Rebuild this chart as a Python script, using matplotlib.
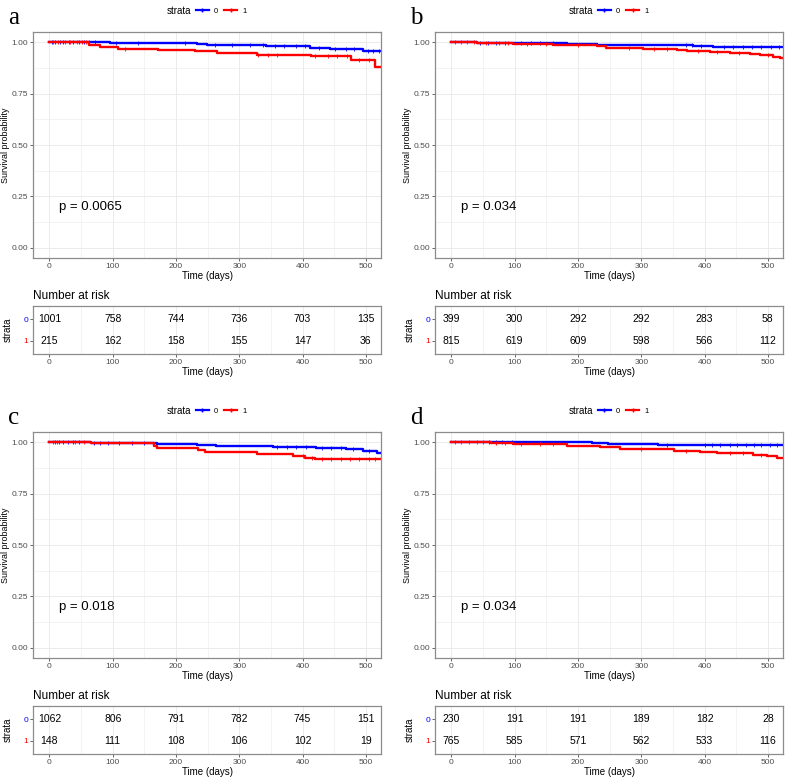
import matplotlib
matplotlib.use("Agg")
import matplotlib.pyplot as plt
import numpy as np

plt.rcParams['font.family'] = ['Liberation Sans', 'DejaVu Sans']

# survival curves (step times in days, survival prob)
a_blue_t = [0, 96, 165, 233, 249, 343, 412, 443, 496]
a_blue_s = [1.0, 0.998, 0.995, 0.992, 0.985, 0.980, 0.972, 0.967, 0.959]
a_red_t = [0, 62, 80, 109, 172, 230, 265, 328, 414, 477, 514]
a_red_s = [1.0, 0.985, 0.979, 0.969, 0.962, 0.956, 0.947, 0.939, 0.931, 0.914, 0.882]

b_blue_t = [0, 40, 100, 182, 230, 382, 414]
b_blue_s = [1.0, 0.997, 0.995, 0.993, 0.985, 0.980, 0.977]
b_red_t = [0, 40, 98, 161, 230, 245, 303, 356, 372, 408, 440, 472, 487, 508, 519]
b_red_s = [1.0, 0.996, 0.992, 0.989, 0.980, 0.972, 0.967, 0.962, 0.957, 0.952,
           0.947, 0.942, 0.936, 0.928, 0.923]

c_blue_t = [0, 65, 101, 170, 233, 264, 354, 422, 469, 496, 517]
c_blue_s = [1.0, 0.997, 0.995, 0.992, 0.987, 0.980, 0.975, 0.972, 0.966, 0.959, 0.949]
c_red_t = [0, 65, 165, 170, 235, 246, 328, 385, 404, 420]
c_red_s = [1.0, 0.995, 0.984, 0.971, 0.962, 0.954, 0.943, 0.935, 0.922, 0.918]

d_blue_t = [0, 222, 248, 327]
d_blue_s = [1.0, 0.997, 0.992, 0.985]
d_red_t = [0, 62, 98, 182, 235, 267, 351, 393, 419, 477, 498, 514]
d_red_s = [1.0, 0.995, 0.992, 0.984, 0.975, 0.966, 0.959, 0.954, 0.948, 0.940, 0.931, 0.922]

# censoring marks (approximate)
a_blue_c = [4, 9, 16, 22, 31, 38, 47, 55, 63, 72, 105, 140, 215, 262, 288, 317, 338,
            356, 371, 389, 404, 426, 451, 468, 482, 503, 512, 521]
a_red_c = [6, 14, 25, 33, 44, 52, 58, 120, 330, 345, 360, 420, 440, 455, 470, 490, 505]
b_blue_c = [45, 58, 70, 85, 110, 125, 140, 160, 370, 380, 395, 430, 445, 460, 475, 490, 505, 518]
b_red_c = [5, 15, 25, 35, 55, 75, 90, 120, 150, 200, 280, 320, 340, 390, 420, 455, 500]
c_blue_c = [8, 15, 22, 30, 38, 47, 70, 80, 92, 110, 130, 150, 360, 375, 390, 405, 430,
            445, 460, 480, 505]
c_red_c = [5, 12, 40, 55, 400, 415, 430, 445, 460, 475, 490, 505, 515]
d_blue_c = [60, 70, 80, 95, 340, 400, 412, 425, 440, 452, 465, 478, 490, 503, 515]
d_red_c = [5, 15, 28, 40, 50, 70, 85, 110, 140, 160, 300, 370, 440, 460, 490]

# number at risk
risk_times = [0, 100, 200, 300, 400, 500]
a_risk0 = [1001, 758, 744, 736, 703, 135]
a_risk1 = [215, 162, 158, 155, 147, 36]
b_risk0 = [399, 300, 292, 292, 283, 58]
b_risk1 = [815, 619, 609, 598, 566, 112]
c_risk0 = [1062, 806, 791, 782, 745, 151]
c_risk1 = [148, 111, 108, 106, 102, 19]
d_risk0 = [230, 191, 191, 189, 182, 28]
d_risk1 = [765, 585, 571, 562, 533, 116]

pvals = ['0.0065', '0.034', '0.018', '0.034']
letters = ['a', 'b', 'c', 'd']
end_time = 525

BLUE = '#0000FF'
RED = '#FF0000'
GRID = '#EBEBEB'
BORDER = '#8C8C8C'
TICK = '#4D4D4D'

W, H = 788, 780
fig = plt.figure(figsize=(W / 100, H / 100), dpi=100)


def px_axes(left, top, w, h):
    return fig.add_axes([left / W, 1 - (top + h) / H, w / W, h / H])


def style(ax):
    for s in ax.spines.values():
        s.set_color(BORDER)
        s.set_linewidth(0.9)
    ax.tick_params(colors=TICK, labelsize=6, length=2, width=0.6, pad=1.5)
    ax.set_axisbelow(True)


def step_curve(ax, t, s, cens, color):
    tt = list(t) + [end_time]
    ss = list(s) + [s[-1]]
    ax.step(tt, ss, where='post', color=color, lw=1.7)
    idx = np.searchsorted(t, cens, side='right') - 1
    ax.plot(cens, np.array(s)[idx], ls='none', marker='+', ms=2.5, mew=0.6, color=color)


panels = [
    (0, 0, a_blue_t, a_blue_s, a_blue_c, a_red_t, a_red_s, a_red_c, a_risk0, a_risk1),
    (402, 0, b_blue_t, b_blue_s, b_blue_c, b_red_t, b_red_s, b_red_c, b_risk0, b_risk1),
    (0, 400, c_blue_t, c_blue_s, c_blue_c, c_red_t, c_red_s, c_red_c, c_risk0, c_risk1),
    (402, 400, d_blue_t, d_blue_s, d_blue_c, d_red_t, d_red_s, d_red_c, d_risk0, d_risk1),
]

for i, (ox, oy, bt, bs, bc, rt, rs, rc, r0, r1) in enumerate(panels):
    ax = px_axes(ox + 33, oy + 32, 348, 226)
    style(ax)
    ax.set_xlim(-26, 524)
    ax.set_ylim(-0.05, 1.05)
    ax.set_xticks(risk_times)
    ax.set_xticks([50, 150, 250, 350, 450], minor=True)
    ax.set_yticks([0, 0.25, 0.5, 0.75, 1.0])
    ax.set_yticks([0.125, 0.375, 0.625, 0.875], minor=True)
    ax.set_yticklabels(['0.00', '0.25', '0.50', '0.75', '1.00'])
    ax.tick_params(which='minor', length=0)
    ax.grid(which='major', color=GRID, lw=0.7)
    ax.grid(which='minor', color=GRID, lw=0.4)
    step_curve(ax, bt, bs, bc, BLUE)
    step_curve(ax, rt, rs, rc, RED)
    ax.set_xlabel('Time (days)', fontsize=7, labelpad=1)
    ax.set_ylabel('Survival probability', fontsize=6.4)
    ax.yaxis.set_label_coords(-0.066, 0.5)
    ax.text(15, 0.2, 'p = ' + pvals[i], fontsize=9.5, ha='left', va='center')

    # legend on top
    ax.text(0.455, 1.092, 'strata', transform=ax.transAxes, fontsize=7,
            ha='right', va='center')
    leg = ax.legend(handles=[plt.Line2D([], [], color=BLUE, lw=1.6, marker='+', ms=2.5),
                             plt.Line2D([], [], color=RED, lw=1.6, marker='+', ms=2.5)],
                    labels=['0', '1'], ncol=2, frameon=False, fontsize=5.5,
                    loc='center left', bbox_to_anchor=(0.468, 1.092),
                    handlelength=1.7, handletextpad=0.6, columnspacing=0.9,
                    borderaxespad=0, borderpad=0)

    fig.text((ox + 8) / W, 1 - (oy + 24) / H, letters[i], fontsize=18,
             family='Liberation Serif', ha='left', va='baseline')

    # risk table
    tb = px_axes(ox + 33, oy + 306, 348, 48)
    style(tb)
    tb.set_xlim(-26, 524)
    tb.set_ylim(0.4, 2.6)
    tb.set_xticks(risk_times)
    tb.set_xticks([50, 150, 250, 350, 450], minor=True)
    tb.tick_params(which='minor', length=0)
    tb.grid(axis='x', which='major', color=GRID, lw=0.7)
    tb.grid(axis='x', which='minor', color=GRID, lw=0.4)
    tb.set_yticks([1, 2])
    tb.set_yticklabels(['1', '0'])
    tb.get_yticklabels()[0].set_color(RED)
    tb.get_yticklabels()[1].set_color(BLUE)
    for x, n0, n1 in zip(risk_times, r0, r1):
        tb.text(x, 2, str(n0), fontsize=7.5, ha='center', va='center')
        tb.text(x, 1, str(n1), fontsize=7.5, ha='center', va='center')
    tb.set_xlabel('Time (days)', fontsize=7, labelpad=1)
    tb.set_ylabel('strata', fontsize=7)
    tb.yaxis.set_label_coords(-0.058, 0.5)
    tb.set_title('Number at risk', fontsize=8.5, loc='left', pad=5)

fig.savefig('out.png', dpi=100)
